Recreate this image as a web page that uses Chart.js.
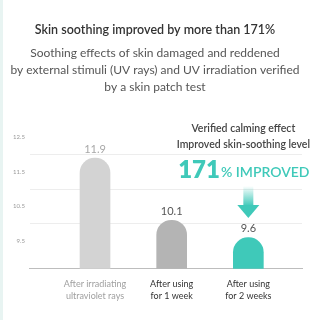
<!DOCTYPE html>
<html>
<head>
<meta charset="utf-8">
<script src="https://cdn.jsdelivr.net/npm/chart.js@4.4.1/dist/chart.umd.min.js"></script>
<style>
  html, body { margin: 0; padding: 0; background: #fff; }
  #wrap { position: relative; width: 320px; height: 320px; }
  #wrap::before { content: ""; position: absolute; left: 0; top: 0; width: 3px; height: 320px; background: #e8f4f2; }
</style>
</head>
<body>
<div id="wrap"><canvas id="chart" width="320" height="320"></canvas></div>
<script>
const titleText = "Skin soothing improved by more than 171%";
const subtitleLines = [
  "Soothing effects of skin damaged and reddened",
  "by external stimuli (UV rays) and UV irradiation verified",
  "by a skin patch test"
];
const categories = [
  ["After irradiating", "ultraviolet rays"],
  ["After using", "for 1 week"],
  ["After using", "for 2 weeks"]
];
const xPositions = [1, 2, 3];
const values = [11.9, 10.1, 9.6];
const barColors = ["#d3d3d3", "#b4b4b4", "#3fc9b9"];
const valueColors = ["#a8a8a8", "#555555", "#555555"];
const labelColors = ["#a0a0a0", "#333333", "#333333"];
const yTickValues = [9, 9.5, 10, 10.5, 11, 11.5, 12, 12.5];
const calloutLines = ["Verified calming effect", "Improved skin-soothing level"];
const calloutBig = "171";
const calloutRest = "% IMPROVED";

const FONT = "Lato, 'Open Sans', sans-serif";
const TEAL = "#3fc9b9";

// value labels, callout text and the gradient arrow
const extras = {
  id: "extras",
  afterDatasetsDraw(chart) {
    const ctx = chart.ctx;
    const bars = chart.getDatasetMeta(0).data;
    ctx.save();
    ctx.textAlign = "center";
    ctx.textBaseline = "middle";
    ctx.font = `11px ${FONT}`;
    bars.forEach((bar, i) => {
      ctx.fillStyle = valueColors[i];
      ctx.fillText(values[i].toFixed(1), bar.x, bar.y - 9);
    });

    const last = bars[bars.length - 1];
    const cx = last.x - 5;
    ctx.fillStyle = "#444";
    ctx.font = `600 10.5px ${FONT}`;
    ctx.fillText(calloutLines[0], cx, 129);
    ctx.fillText(calloutLines[1], cx, 145);

    ctx.font = `800 24px ${FONT}`;
    const w1 = ctx.measureText(calloutBig).width;
    ctx.font = `600 14px ${FONT}`;
    const w2 = ctx.measureText(calloutRest).width;
    const left = cx - (w1 + w2) / 2;
    ctx.textAlign = "left";
    ctx.textBaseline = "alphabetic";
    ctx.fillStyle = TEAL;
    ctx.font = `800 24px ${FONT}`;
    ctx.fillText(calloutBig, left, 178);
    ctx.font = `600 14px ${FONT}`;
    ctx.fillText(calloutRest, left + w1 + 1, 177);

    // arrow
    const ax = last.x;
    const g = ctx.createLinearGradient(0, 186, 0, 206);
    g.addColorStop(0, "rgba(63,201,185,0)");
    g.addColorStop(1, "rgba(63,201,185,1)");
    ctx.fillStyle = g;
    ctx.fillRect(ax - 5, 186, 10, 20);
    ctx.fillStyle = TEAL;
    ctx.beginPath();
    ctx.moveTo(ax - 11, 205);
    ctx.lineTo(ax + 11, 205);
    ctx.lineTo(ax, 218);
    ctx.closePath();
    ctx.fill();
    ctx.restore();
  }
};

new Chart(document.getElementById("chart"), {
  type: "bar",
  data: {
    datasets: [{
      data: xPositions.map((x, i) => ({ x, y: values[i] })),
      backgroundColor: barColors,
      barThickness: 30,
      borderRadius: { topLeft: 15, topRight: 15, bottomLeft: 0, bottomRight: 0 },
      borderSkipped: "bottom"
    }]
  },
  plugins: [extras],
  options: {
    responsive: false,
    animation: false,
    layout: { padding: { left: 8, right: 18, bottom: 9, top: 0 } },
    plugins: {
      legend: { display: false },
      tooltip: { enabled: false },
      title: {
        display: true,
        text: titleText,
        color: "#333",
        font: { family: FONT, size: 12.5, weight: "600" },
        padding: { top: 22, bottom: 8 }
      },
      subtitle: {
        display: true,
        text: subtitleLines,
        color: "#555",
        font: { family: FONT, size: 12, lineHeight: 1.4 },
        padding: { bottom: 16 }
      }
    },
    scales: {
      x: {
        type: "linear",
        offset: false,
        min: 0.15,
        max: 3.7,
        afterBuildTicks: scale => { scale.ticks = xPositions.map(v => ({ value: v })); },
        grid: { display: false, drawTicks: false },
        border: { display: true, color: "#bdbdbd", width: 1 },
        ticks: {
          padding: 9,
          autoSkip: false,
          maxRotation: 0,
          color: ctx => labelColors[ctx.index],
          font: { family: FONT, size: 9, lineHeight: 1.35 },
          callback: (v, i) => categories[i]
        }
      },
      y: {
        min: 8.7,
        max: 13.25,
        afterBuildTicks: scale => { scale.ticks = yTickValues.map(v => ({ value: v })); },
        border: { display: false },
        grid: {
          drawTicks: false,
          color: ctx => (ctx.tick && ctx.tick.value % 1 === 0 && ctx.tick.value > 9) ? "#ededed" : "rgba(0,0,0,0)"
        },
        ticks: {
          padding: 5,
          color: "#999",
          font: { family: FONT, size: 6 },
          callback: v => (v % 1 === 0 ? "" : String(v))
        }
      }
    }
  }
});
</script>
</body>
</html>
